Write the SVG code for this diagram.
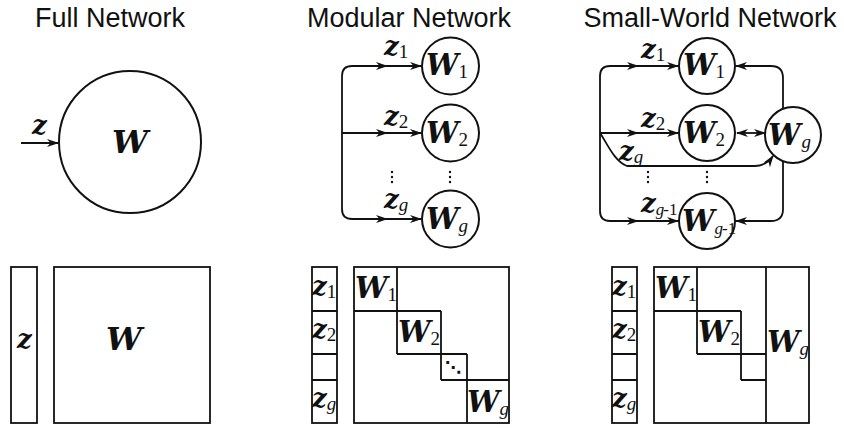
<svg xmlns="http://www.w3.org/2000/svg" width="844" height="428" viewBox="0 0 844 428">
<style>
.t{font-family:"Liberation Sans",Arial,sans-serif;font-size:27px;text-anchor:middle;fill:#111}
.m{font-family:"DejaVu Serif","Liberation Serif",serif;font-weight:bold;font-style:italic;fill:#111}
.s{font-family:"Liberation Serif","Times New Roman",serif;font-weight:normal;font-style:normal}
.g{font-family:"Liberation Serif","Times New Roman",serif;font-weight:normal;font-style:italic}
.n{fill:#fff;stroke:#111;stroke-width:2}
.b{fill:none;stroke:#111;stroke-width:1.8}
.c{fill:none;stroke:#111;stroke-width:1.8}
.a{marker-end:url(#ah)}
.am{marker-mid:url(#ah);marker-end:url(#ah)}
.dot{fill:#111}
.d{font-family:"DejaVu Sans",sans-serif;font-size:16px;font-weight:bold;text-anchor:middle;fill:#111}
</style>
<defs>
<marker id="ah" viewBox="0 0 12 8" refX="11" refY="4" markerWidth="12" markerHeight="8" markerUnits="userSpaceOnUse" orient="auto-start-reverse">
<path d="M0,0 L12,4 L0,8 L3.5,4 z" fill="#111"/>
</marker>
<g id="vd"><circle class="dot" cx="0" cy="-5" r="1.2"/><circle class="dot" cx="0" cy="0" r="1.2"/><circle class="dot" cx="0" cy="5" r="1.2"/></g>
</defs>
<rect width="844" height="428" fill="#fff"/>

<g id="titles">
<text class="t" x="110" y="27">Full Network</text>
<text class="t" x="409" y="27">Modular Network</text>
<text class="t" x="710" y="27">Small-World Network</text>
</g>

<g id="connectors">
<path class="c a" d="M21,143 L58,143"/>
<path class="c" d="M342,133 L342,76 Q342,66 352,66"/>
<path class="c" d="M342,133 L342,209 Q342,219 352,219"/>
<path class="c am" d="M352,66 L387,66 L421,66"/>
<path class="c am" d="M342,133 L387,133 L421,133"/>
<path class="c am" d="M352,219 L387,219 L421,219"/>
<path class="c" d="M600,133 L600,76 Q600,66 610,66"/>
<path class="c" d="M600,133 L600,211 Q600,221 610,221"/>
<path class="c am" d="M610,66 L638,66 L678,66"/>
<path class="c am" d="M600,133 L638,133 L678,133"/>
<path class="c am" d="M610,221 L638,221 L678,221"/>
<path class="c a" d="M600,133 C607,143 614,161 627,166 L755,166 Q766,166 773,156"/>
<path class="c a" d="M783,109 L783,78 Q783,66 771,66 L736,66"/>
<path class="c a" d="M783,161 L783,209 Q783,221 771,221 L736,221"/>
<path class="c" d="M737,133 L765,133" marker-start="url(#ah)" marker-end="url(#ah)"/>
</g>

<g id="full-net">
<circle class="n" cx="130" cy="142" r="71"/>
<text class="m" x="32" y="134" font-size="26">z</text>
<text class="m" x="130" y="153" font-size="32" text-anchor="middle">W</text>
</g>

<g id="mod-W1"><circle class="n" cx="450.5" cy="66" r="28.5"/><text class="m" x="426" y="75" font-size="29">W<tspan class="s" font-size="19" dy="3">1</tspan></text></g>
<g id="mod-W2"><circle class="n" cx="450.5" cy="133" r="28.5"/><text class="m" x="426" y="143" font-size="29">W<tspan class="s" font-size="19" dy="3">2</tspan></text></g>
<g id="mod-Wg"><circle class="n" cx="450.5" cy="219" r="28.5"/><text class="m" x="426" y="229" font-size="29">W<tspan class="g" font-size="19" dy="3">g</tspan></text></g>
<g id="mod-labels">
<text class="m" x="384" y="55" font-size="26">z<tspan class="s" font-size="19" dy="3">1</tspan></text>
<text class="m" x="384" y="125" font-size="26">z<tspan class="s" font-size="19" dy="3">2</tspan></text>
<text class="m" x="384" y="208" font-size="26">z<tspan class="g" font-size="19" dy="3">g</tspan></text>
<use href="#vd" x="392" y="177"/>
<use href="#vd" x="450" y="177"/>
</g>

<g id="sw-W1"><circle class="n" cx="707" cy="66" r="28"/><text class="m" x="683" y="75" font-size="29">W<tspan class="s" font-size="19" dy="3">1</tspan></text></g>
<g id="sw-W2"><circle class="n" cx="707" cy="133" r="28"/><text class="m" x="683" y="143" font-size="29">W<tspan class="s" font-size="19" dy="3">2</tspan></text></g>
<g id="sw-Wg1"><circle class="n" cx="707" cy="221" r="28"/><text class="m" x="682" y="231" font-size="29">W<tspan class="g" font-size="17" dy="3">g</tspan><tspan class="s" font-size="17" dx="-1">-1</tspan></text></g>
<g id="sw-Wg"><circle class="n" cx="793" cy="135" r="28"/><text class="m" x="768" y="145" font-size="29">W<tspan class="g" font-size="19" dy="3" dx="1">g</tspan></text></g>
<g id="sw-labels">
<text class="m" x="641" y="58" font-size="26">z<tspan class="s" font-size="19" dy="3">1</tspan></text>
<text class="m" x="641" y="127" font-size="26">z<tspan class="s" font-size="19" dy="3">2</tspan></text>
<text class="m" x="619" y="160" font-size="26">z<tspan class="g" font-size="19" dy="3">g</tspan></text>
<text class="m" x="641" y="212" font-size="26">z<tspan class="g" font-size="17" dy="3">g</tspan><tspan class="s" font-size="17" dx="-1">-1</tspan></text>
<use href="#vd" x="648" y="177"/>
<use href="#vd" x="707" y="177"/>
</g>

<g id="full-matrix">
<rect class="b" x="11" y="267" width="26" height="156"/>
<rect class="b" x="54" y="267" width="156" height="156"/>
<text class="m" x="17" y="348" font-size="26">z</text>
<text class="m" x="106" y="350" font-size="32">W</text>
</g>

<g id="mod-matrix">
<rect class="b" x="312" y="267" width="25" height="156"/>
<path class="b" d="M312,311 H337 M312,354 H337 M312,380 H337"/>
<rect class="b" x="354" y="267" width="155" height="156"/>
<path class="b" d="M354,311 H441 M397,267 V354 M397,354 H467 M441,311 V380 M441,380 H509 M467,354 V423"/>
<text class="m" x="312" y="295" font-size="26">z<tspan class="s" font-size="19" dy="3">1</tspan></text>
<text class="m" x="312" y="338" font-size="26">z<tspan class="s" font-size="19" dy="3">2</tspan></text>
<text class="m" x="312" y="407" font-size="26">z<tspan class="g" font-size="19" dy="3">g</tspan></text>
<text class="m" x="355" y="298" font-size="29">W<tspan class="s" font-size="19" dy="3">1</tspan></text>
<text class="m" x="398" y="342" font-size="29">W<tspan class="s" font-size="19" dy="3">2</tspan></text>
<text class="d" x="453" y="373">⋱</text>
<text class="m" x="467" y="412" font-size="29">W<tspan class="g" font-size="19" dy="3">g</tspan></text>
</g>

<g id="sw-matrix">
<rect class="b" x="612" y="267" width="25" height="156"/>
<path class="b" d="M612,311 H637 M612,354 H637 M612,380 H637"/>
<rect class="b" x="654" y="267" width="155" height="156"/>
<path class="b" d="M766,267 V423 M654,311 H741 M697,267 V354 M697,354 H766 M741,311 V380 M741,380 H766"/>
<text class="m" x="612" y="295" font-size="26">z<tspan class="s" font-size="19" dy="3">1</tspan></text>
<text class="m" x="612" y="338" font-size="26">z<tspan class="s" font-size="19" dy="3">2</tspan></text>
<text class="m" x="612" y="407" font-size="26">z<tspan class="g" font-size="19" dy="3">g</tspan></text>
<text class="m" x="655" y="298" font-size="29">W<tspan class="s" font-size="19" dy="3">1</tspan></text>
<text class="m" x="698" y="342" font-size="29">W<tspan class="s" font-size="19" dy="3">2</tspan></text>
<text class="m" x="767" y="352" font-size="29">W<tspan class="g" font-size="19" dy="3">g</tspan></text>
</g>
</svg>
